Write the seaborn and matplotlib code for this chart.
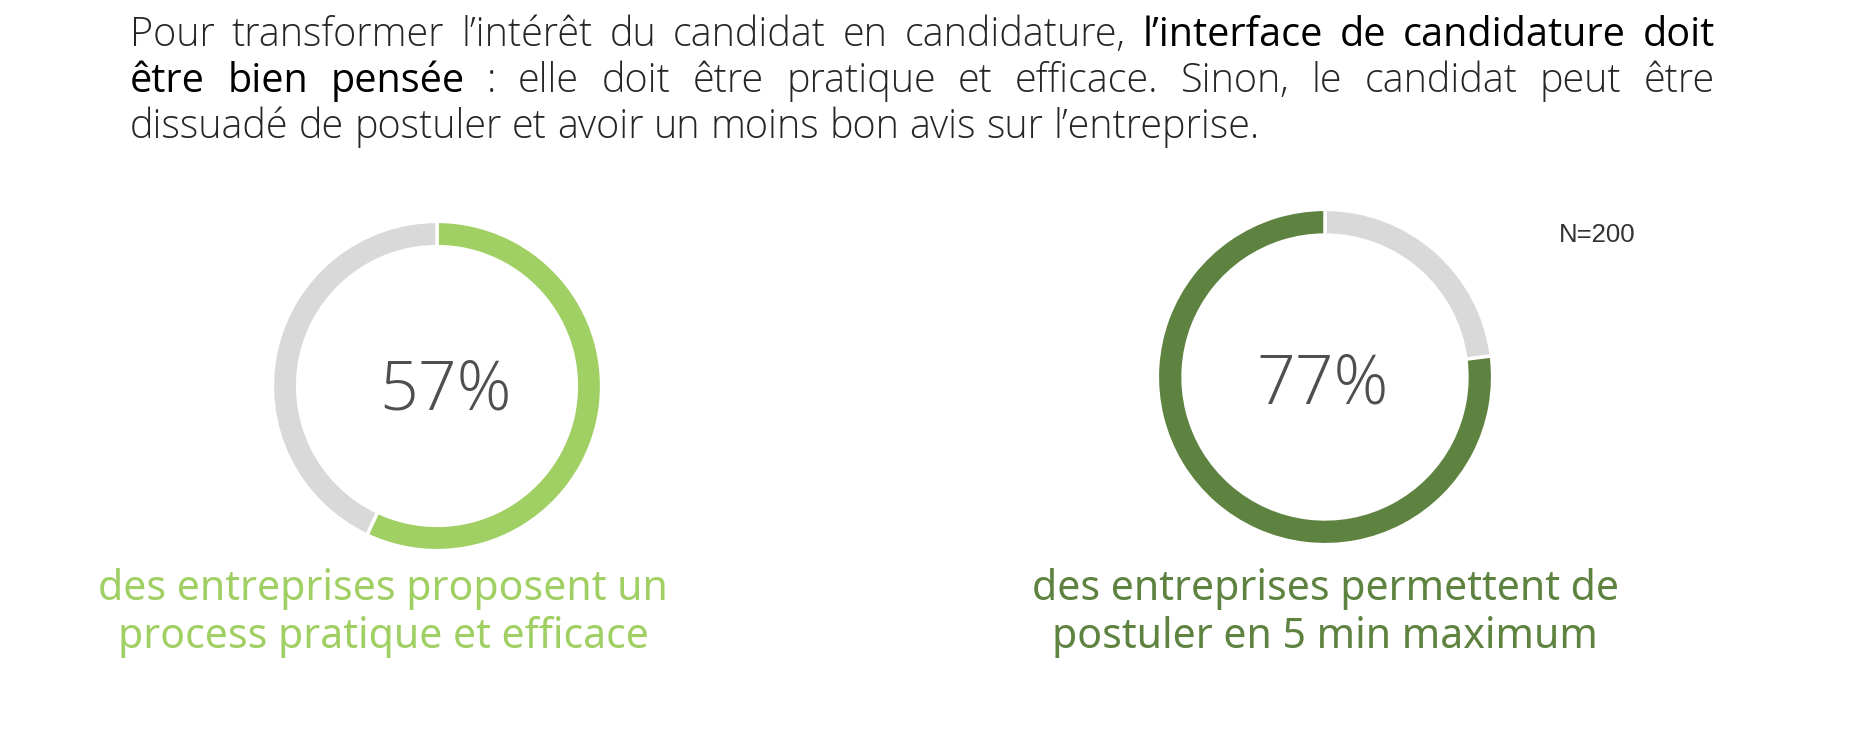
import matplotlib
matplotlib.use("Agg")
import matplotlib.pyplot as plt
import seaborn as sns

# -------------------------- data --------------------------
percents = [57, 77]
percent_labels = ["57%", "77%"]
captions = ["des entreprises proposent un\nprocess pratique et efficace",
            "des entreprises permettent de\npostuler en 5 min maximum"]
sample_note = "N=200"

# header: each line is a list of (text segment, bold?)
header_lines = [
    [("Pour transformer l’intérêt du candidat en candidature,", False),
     ("l’interface de candidature doit", True)],
    [("être bien pensée", True),
     (": elle doit être pratique et efficace. Sinon, le candidat peut être", False)],
    [("dissuadé de postuler et avoir un moins bon avis sur l’entreprise.", False)],
]
header_justify = [True, True, False]

# -------------------------- style --------------------------
sns.set_theme(style="white")
plt.rcParams["font.family"] = ["Open Sans", "DejaVu Sans"]

light_green = "#A0CF63"
dark_green = "#5E8240"
ring_grey = "#D9D9D9"
pct_grey = "#4f4f4f"

W, H = 1864, 744
fig = plt.figure(figsize=(W / 100, H / 100), dpi=100)
fig.patch.set_facecolor("white")

def fx(px):
    return px / W

def fy(py):
    return 1 - py / H

# -------------------------- donuts --------------------------
donuts = [
    dict(cx=437, cy=386, r=163, color=light_green, highlight_first=True,
         ldx=9, ldy=6, cap_x=383),
    dict(cx=1325, cy=377, r=166, color=dark_green, highlight_first=False,
         ldx=-2, ldy=8, cap_x=1325),
]

for p, lab, cap, d in zip(percents, percent_labels, captions, donuts):
    r = d["r"]
    ax = fig.add_axes([fx(d["cx"] - r), fy(d["cy"] + r), 2 * r / W, 2 * r / H])
    if d["highlight_first"]:
        vals, cols = [p, 100 - p], [d["color"], ring_grey]
    else:
        vals, cols = [100 - p, p], [ring_grey, d["color"]]
    ax.pie(vals, colors=cols, startangle=90, counterclock=False, radius=1.01,
           wedgeprops=dict(width=0.155, edgecolor="white", linewidth=2.5))
    ax.set_xlim(-1, 1)
    ax.set_ylim(-1, 1)
    ax.set_aspect("equal")
    ax.axis("off")
    fig.text(fx(d["cx"] + d["ldx"]), fy(d["cy"] + d["ldy"]), lab, ha="center",
             va="center", fontsize=49, color=pct_grey,
             family=["Open Sans", "DejaVu Sans"], fontweight="light")
    # caption, one line at a time
    for i, line in enumerate(cap.split("\n")):
        fig.text(fx(d["cap_x"]), fy(600 + 48 * i), line, ha="center",
                 va="baseline", fontsize=29.5, color=d["color"],
                 family=["Noto Sans", "DejaVu Sans"])

fig.text(fx(1597), fy(235), sample_note, ha="center", va="center", fontsize=18.5,
         color="#333333", family=["Liberation Sans", "DejaVu Sans"])

# -------------------------- header (justified) --------------------------
fig.canvas.draw()
renderer = fig.canvas.get_renderer()
left_px, right_px = 130, 1715
baselines = [46, 92, 138]
hdr_size = 28.5

for tokens, justify, base in zip(header_lines, header_justify, baselines):
    words = []
    for seg, bold in tokens:
        for w in seg.split(" "):
            words.append((w, bold))
    texts = []
    for w, bold in words:
        t = fig.text(0, fy(base), w, ha="left", va="baseline", fontsize=hdr_size,
                     color="#000000" if bold else "#262626",
                     fontweight="normal" if bold else "light")
        texts.append(t)
    widths = [t.get_window_extent(renderer).width for t in texts]
    if justify:
        gap = (right_px - left_px - sum(widths)) / (len(words) - 1)
    else:
        sp = fig.text(0, 0, "a a", fontsize=hdr_size, fontweight="light")
        sp2 = fig.text(0, 0, "aa", fontsize=hdr_size, fontweight="light")
        gap = sp.get_window_extent(renderer).width - sp2.get_window_extent(renderer).width
        sp.remove()
        sp2.remove()
    x = left_px
    for t, wd in zip(texts, widths):
        t.set_x(fx(x))
        x += wd + gap

fig.savefig("out.png", dpi=100, facecolor="white")
